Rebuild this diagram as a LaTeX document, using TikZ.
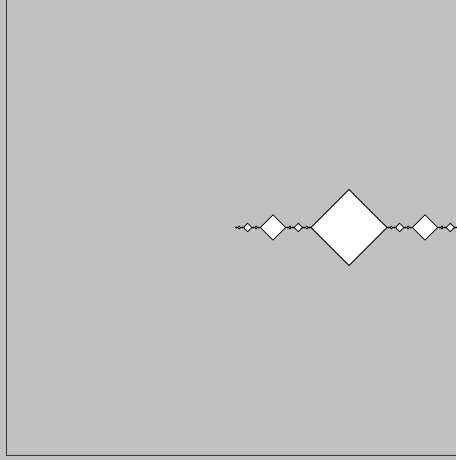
\documentclass[tikz,border=0pt]{standalone}
\usepackage{tikz}

\definecolor{canvasgray}{RGB}{192,192,192}
\definecolor{framegray}{RGB}{50,50,50}

\tikzset{gem/.style={draw=black,fill=white,line width=0.8pt,line join=miter}}

% one diamond, then a third-size copy two half-widths away on each side
\newcommand{\gem}[4]{%
  \draw[gem] (#1,#2) +(-#3,0) -- +(0,#3) -- +(#3,0) -- +(0,-#3) -- cycle;
  \ifnum#4>0
    \pgfmathsetmacro\gemsub{#3/3}%
    \pgfmathsetmacro\gemL{#1-2*#3}%
    \pgfmathsetmacro\gemR{#1+2*#3}%
    \pgfmathtruncatemacro\gemlvl{#4-1}%
    \edef\gemnext{\noexpand\gem{\gemL}{#2}{\gemsub}{\gemlvl}\noexpand\gem{\gemR}{#2}{\gemsub}{\gemlvl}}%
    \gemnext
  \fi}

\begin{document}
\begin{tikzpicture}[x=1pt,y=-1pt]

% canvas
\fill[canvasgray] (0,0) rectangle (456,460);
\useasboundingbox (0,0) rectangle (456,460);
\draw[framegray,line width=1.5pt] (6.5,0) -- (6.5,455.5) -- (456,455.5);

% row of diamonds
\gem{349}{227.5}{38}{5}

\end{tikzpicture}
\end{document}
